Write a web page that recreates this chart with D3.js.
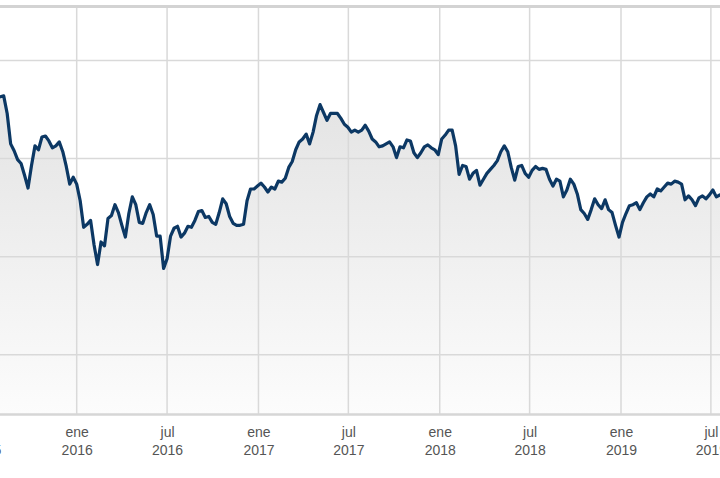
<!DOCTYPE html>
<html>
<head>
<meta charset="utf-8">
<script src="https://cdn.jsdelivr.net/npm/d3@7"></script>
<style>
  html, body { margin: 0; padding: 0; background: #fff; overflow: hidden; }
  svg { display: block; }
</style>
</head>
<body>
<svg id="chart" width="720" height="478"></svg>
<script>
// ---- data (weekly closes) ----
const seriesStart = "2015-07-24";   // first weekly observation (Friday)
const seriesStepDays = 7;
const seriesValues = [
  46.2, 46.3, 46.4, 44.6, 41.5, 40.8, 39.9, 39.5, 38.3, 37.0,
  39.3, 41.3, 40.9, 42.2, 42.3, 41.8, 41.1, 41.3, 41.7, 40.7,
  39.2, 37.4, 38.1, 37.4, 35.7, 33.0, 33.3, 33.7, 31.2, 29.2,
  31.5, 31.1, 33.9, 34.2, 35.3, 34.5, 33.2, 32.0, 34.4, 36.1,
  35.3, 33.5, 33.4, 34.5, 35.3, 34.3, 32.1, 32.1, 28.8, 29.8,
  32.1, 32.9, 33.1, 32.0, 32.4, 33.1, 33.0, 33.7, 34.6, 34.7,
  34.0, 34.1, 33.5, 33.3, 34.5, 35.9, 35.4, 34.1, 33.4, 33.2,
  33.2, 33.3, 35.7, 36.9, 36.9, 37.2, 37.5, 37.1, 36.6, 37.1,
  36.9, 37.7, 37.6, 38.0, 39.1, 39.7, 40.9, 41.7, 42.0, 42.5,
  41.5, 42.7, 44.4, 45.5, 44.7, 43.9, 44.6, 44.6, 44.6, 44.1,
  43.5, 43.2, 42.7, 42.9, 42.7, 42.9, 43.4, 42.8, 42.0, 41.7,
  41.2, 41.3, 41.5, 41.7, 41.2, 40.1, 41.2, 41.1, 41.9, 41.8,
  40.6, 40.1, 40.6, 41.2, 41.4, 41.1, 40.9, 40.4, 42.0, 42.4,
  42.9, 42.9, 41.3, 38.4, 39.3, 39.2, 37.9, 38.5, 38.8, 37.3,
  37.9, 38.5, 38.9, 39.3, 39.8, 40.7, 41.3, 40.7, 39.1, 37.8,
  39.2, 39.3, 38.5, 38.1, 38.8, 39.2, 38.9, 39.0, 38.9, 37.9,
  37.2, 37.9, 37.7, 36.1, 36.8, 37.9, 37.4, 36.4, 34.8, 34.4,
  33.8, 34.8, 35.9, 35.3, 34.9, 35.8, 34.8, 34.5, 33.2, 32.0,
  33.5, 34.4, 35.2, 35.3, 35.5, 34.8, 35.5, 36.1, 36.4, 36.1,
  36.9, 36.7, 37.1, 37.5, 37.4, 37.7, 37.6, 37.4, 35.8, 36.2,
  35.8, 35.2, 36.0, 36.2, 35.9, 36.3, 36.8, 36.1, 36.3, 36.2
];
const gridValues = [20, 30, 40, 50];
const tickDates = ["2015-07-01", "2016-01-01", "2016-07-01", "2017-01-01", "2017-07-01",
                   "2018-01-01", "2018-07-01", "2019-01-01", "2019-07-01"];
const tickMonths = ["jul", "ene", "jul", "ene", "jul", "ene", "jul", "ene", "jul"];
const tickYears = ["2015", "2016", "2016", "2017", "2017", "2018", "2018", "2019", "2019"];

// ---- build ----
const parse = d3.timeParse("%Y-%m-%d");
const t0 = parse(seriesStart);
const data = seriesValues.map((v, i) => ({ date: d3.timeDay.offset(t0, i * seriesStepDays), value: v }));

const W = 720, H = 478;
const plotTop = 7, plotBottom = 414.5;

const x = d3.scaleTime()
  .domain([parse("2016-01-01"), parse("2019-01-01")])
  .range([76.7, 621]);
const y = d3.scaleLinear()
  .domain([20, 50])
  .range([354.8, 60.5]);

const svg = d3.select("#chart");

const defs = svg.append("defs");
const grad = defs.append("linearGradient")
  .attr("id", "areaGrad")
  .attr("gradientUnits", "userSpaceOnUse")
  .attr("x1", 0).attr("x2", 0)
  .attr("y1", 90).attr("y2", plotBottom);
grad.append("stop").attr("offset", "0%").attr("stop-color", "#e3e3e3");
grad.append("stop").attr("offset", "100%").attr("stop-color", "#fcfcfc");

// area
const area = d3.area()
  .x(d => x(d.date))
  .y0(plotBottom)
  .y1(d => y(d.value));
svg.append("path")
  .datum(data)
  .attr("d", area)
  .attr("fill", "url(#areaGrad)");

// horizontal grid
svg.append("g")
  .selectAll("line")
  .data(gridValues)
  .join("line")
  .attr("x1", 0).attr("x2", W)
  .attr("y1", d => y(d)).attr("y2", d => y(d))
  .attr("stroke", "#d9d9d9")
  .attr("stroke-width", 1.5);

// vertical grid
const tickDateObjs = tickDates.map(parse);
svg.append("g")
  .selectAll("line")
  .data(tickDateObjs)
  .join("line")
  .attr("x1", d => x(d)).attr("x2", d => x(d))
  .attr("y1", plotTop).attr("y2", plotBottom)
  .attr("stroke", "#d9d9d9")
  .attr("stroke-width", 1.5);

// top border
svg.append("line")
  .attr("x1", 0).attr("x2", W)
  .attr("y1", plotTop - 0.5).attr("y2", plotTop - 0.5)
  .attr("stroke", "#d3d3d3")
  .attr("stroke-width", 3);

// line
const line = d3.line()
  .x(d => x(d.date))
  .y(d => y(d.value));
svg.append("path")
  .datum(data)
  .attr("d", line)
  .attr("fill", "none")
  .attr("stroke", "#0c3864")
  .attr("stroke-width", 3.2)
  .attr("stroke-linejoin", "round")
  .attr("stroke-linecap", "round");

// x axis
const xAxis = d3.axisBottom(x)
  .tickValues(tickDateObjs)
  .tickSize(0)
  .tickPadding(0)
  .tickFormat(() => "");
const gx = svg.append("g")
  .attr("transform", `translate(0,${plotBottom})`)
  .call(xAxis);
gx.select(".domain")
  .attr("d", `M0,0H${W}`)
  .attr("stroke", "#d6d6d6")
  .attr("stroke-width", 2.5);
gx.selectAll(".tick text").each(function(d, i) {
  const t = d3.select(this);
  t.text(null)
    .attr("y", 0)
    .attr("dy", null)
    .attr("fill", "#555")
    .style("font-family", "'Liberation Sans', Arial, sans-serif")
    .style("font-size", "14px")
    .attr("text-anchor", "middle");
  t.append("tspan").attr("x", 0).attr("y", 22).text(tickMonths[i]);
  t.append("tspan").attr("x", 0).attr("y", 40).text(tickYears[i]);
});
</script>
</body>
</html>
